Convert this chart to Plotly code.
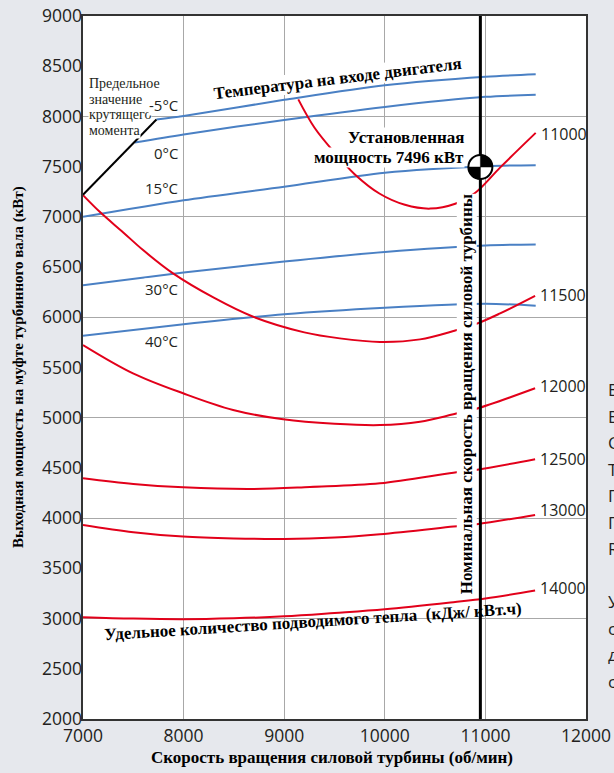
import numpy as np
import plotly.graph_objects as go

# ---------------- data ----------------
# Temperature lines (engine inlet temperature), output power kW vs power-turbine speed rpm
t_m5_x = [7730, 8000, 9000, 10000, 11000, 11500]
t_m5_y = [7970, 8005, 8165, 8310, 8395, 8420]
t_0_x = [7514, 8000, 9000, 10000, 11000, 11500]
t_0_y = [7740, 7820, 7965, 8095, 8195, 8215]
t_15_x = [7000, 8000, 9000, 10000, 11000, 11500]
t_15_y = [7000, 7165, 7300, 7440, 7505, 7515]
t_30_x = [7000, 8000, 9000, 10000, 11000, 11500]
t_30_y = [6320, 6445, 6555, 6650, 6715, 6725]
t_40_x = [7000, 8000, 9000, 10000, 11000, 11500]
t_40_y = [5815, 5930, 6030, 6095, 6135, 6115]
temp_labels = ["-5°C", "0°C", "15°C", "30°C", "40°C"]
temp_label_y = [8118, 7631, 7283, 6278, 5766]

# Heat-rate lines (kJ/kWh)
hr_11000_x = [9140, 9300, 9500, 9700, 9950, 10200, 10450, 10700, 10900, 11150, 11500]
hr_11000_y = [8170, 7890, 7640, 7425, 7230, 7120, 7082, 7130, 7240, 7495, 7836]
hr_11500_x = [7000, 7166, 7400, 7597, 7895, 8300, 8692, 9200, 9553, 9952, 10350, 10682, 10904, 11146, 11494]
hr_11500_y = [7216, 7050, 6845, 6669, 6437, 6195, 6005, 5850, 5790, 5755, 5780, 5863, 5932, 6039, 6214]
hr_12000_x = [7000, 7497, 7995, 8492, 8990, 9500, 9952, 10350, 10682, 10904, 11494]
hr_12000_y = [5724, 5442, 5243, 5077, 4984, 4940, 4927, 4960, 5034, 5087, 5293]
hr_12500_x = [7000, 7500, 7995, 8692, 9256, 9952, 10682, 10904, 11494]
hr_12500_y = [4397, 4340, 4307, 4291, 4311, 4347, 4453, 4480, 4586]
hr_13000_x = [7000, 7500, 7995, 8500, 9000, 9500, 9952, 10682, 10914, 11494]
hr_13000_y = [3932, 3860, 3816, 3798, 3793, 3808, 3840, 3916, 3940, 4032]
hr_14000_x = [7000, 7500, 7995, 8500, 9000, 9500, 10000, 10682, 11000, 11494]
hr_14000_y = [3014, 3000, 2994, 3003, 3022, 3055, 3092, 3163, 3200, 3279]
hr_labels = ["11000", "11500", "12000", "12500", "13000", "14000"]

# Torque limit line
torque_x = [7000, 7730]
torque_y = [7220, 7970]

# Nominal power-turbine speed and installed power point
nominal_speed = [10950]
installed_power = [7496]

x_ticks = [7000, 8000, 9000, 10000, 11000, 12000]
y_ticks = [2000, 2500, 3000, 3500, 4000, 4500, 5000, 5500, 6000, 6500, 7000, 7500, 8000, 8500, 9000]

torque_note = ["Предельное", "значение", "крутящего", "момента"]
installed_note = ["Установленная", "мощность 7496 кВт"]

# ---------------- style ----------------
RED = "#E2001A"
BLUE = "#4A80C4"
SANS = "Open Sans"
SERIF = "Liberation Serif"
TXT = "#231F20"
BG = "#E6E8ED"

fig = go.Figure()

temps = [(t_m5_x, t_m5_y), (t_0_x, t_0_y), (t_15_x, t_15_y), (t_30_x, t_30_y), (t_40_x, t_40_y)]
for (xs, ys) in temps:
    fig.add_trace(go.Scatter(x=xs, y=ys, mode="lines", line=dict(color=BLUE, width=2, shape="spline", smoothing=0.8),
                             hoverinfo="skip", showlegend=False))

hrs = [(hr_11000_x, hr_11000_y), (hr_11500_x, hr_11500_y), (hr_12000_x, hr_12000_y),
       (hr_12500_x, hr_12500_y), (hr_13000_x, hr_13000_y), (hr_14000_x, hr_14000_y)]
for (xs, ys) in hrs:
    fig.add_trace(go.Scatter(x=xs, y=ys, mode="lines", line=dict(color=RED, width=2, shape="spline", smoothing=1.0),
                             hoverinfo="skip", showlegend=False))

fig.add_trace(go.Scatter(x=torque_x, y=torque_y, mode="lines", line=dict(color="black", width=2),
                         hoverinfo="skip", showlegend=False))

# vertical nominal speed line (on overlay axis y2, drawn on top)
fig.add_trace(go.Scatter(x=nominal_speed * 2, y=[y_ticks[0], y_ticks[-1]], mode="lines",
                         line=dict(color="black", width=3), yaxis="y2", hoverinfo="skip", showlegend=False))

annotations = []
# torque-limit note, one line per annotation for tight line spacing
for i, line in enumerate(torque_note):
    annotations.append(dict(x=7045, y=8325 - i * 154, xref="x", yref="y", text=line, showarrow=False,
                            xanchor="left", yanchor="middle", font=dict(family=SERIF, size=14, color=TXT),
                            bgcolor="white", borderpad=0))
# installed power note, one box per line
for i, line in enumerate(installed_note):
    annotations.append(dict(x=10800, y=7795 - i * 205, xref="x", yref="y", text=f"<b>{line}</b>",
                            showarrow=False, xanchor="right", yanchor="middle",
                            font=dict(family=SERIF, size=17, color="black"), bgcolor="white", borderpad=0))
# temperature labels
for lab, ly in zip(temp_labels, temp_label_y):
    annotations.append(dict(x=7955, y=ly, xref="x", yref="y", text=lab, showarrow=False, xanchor="right",
                            yanchor="middle", font=dict(family=SANS, size=15, color=TXT),
                            bgcolor="white", borderpad=0))
# heat-rate labels
hr_shift = [-1, 1, 2, 0, 5, 3]
for lab, (xs, ys), sh in zip(hr_labels, hrs, hr_shift):
    annotations.append(dict(x=xs[-1], y=ys[-1], xref="x", yref="y", text=lab, showarrow=False, xanchor="left",
                            yanchor="middle", xshift=3, yshift=sh, font=dict(family=SANS, size=16, color=TXT)))

annotations += [
    dict(x=9530, y=8375, xref="x", yref="y", text="<b>Температура на входе двигателя</b>",
         showarrow=False, textangle=-7, font=dict(family=SERIF, size=17, color="black"),
         bgcolor="white", borderpad=0),
    dict(x=10810, y=5236, xref="x", yref="y", text="<b>Номинальная скорость вращения силовой турбины</b>",
         showarrow=False, textangle=-90, font=dict(family=SERIF, size=17, color="black"),
         bgcolor="white", borderpad=0),
    dict(x=9290, y=2975, xref="x", yref="y", text="<b>Удельное количество подводимого тепла  (кДж/ кВт.ч)</b>",
         showarrow=False, textangle=-3.6, font=dict(family=SERIF, size=17, color="black")),
    dict(x=0.496, y=-0.0547, xref="paper", yref="paper", text="<b>Скорость вращения силовой турбины (об/мин)</b>",
         showarrow=False, xanchor="center", yanchor="middle", font=dict(family=SERIF, size=17, color="black")),
    dict(x=-0.128, y=0.5, xref="paper", yref="paper", text="<b>Выходная мощность на муфте турбинного вала (кВт)</b>",
         showarrow=False, textangle=-90, xanchor="center", yanchor="middle",
         font=dict(family=SERIF, size=15, color="black")),
]

# clipped side text letters (outside the chart, cut by the page edge)
side_letters = ["В", "В", "С", "Т", "П", "П", "R", "", "У", "с", "д", "с"]
for i, ch in enumerate(side_letters):
    if not ch:
        continue
    annotations.append(dict(x=1.04, y=1 - (390 + i * 26.5 - 15.7) / 703.8, xref="paper", yref="paper", text=ch,
                            showarrow=False, xanchor="left", yanchor="middle",
                            font=dict(family=SANS, size=17, color=TXT)))

# installed-power marker (quartered circle) drawn in pixel units around the data point
R = 12
shapes = [dict(type="circle", xref="x", yref="y", xsizemode="pixel", ysizemode="pixel",
               xanchor=nominal_speed[0], yanchor=installed_power[0], x0=-R, x1=R, y0=-R, y1=R,
               fillcolor="white", line=dict(color="black", width=2), layer="above")]


def wedge(a0, a1, r):
    ang = np.linspace(np.radians(a0), np.radians(a1), 16)
    pts = " ".join(f"L {r*np.cos(a):.2f} {r*np.sin(a):.2f}" for a in ang)
    return f"M 0 0 {pts} Z"


for a0, a1 in [(0, 90), (180, 270)]:
    shapes.append(dict(type="path", xref="x", yref="y", xsizemode="pixel", ysizemode="pixel",
                       xanchor=nominal_speed[0], yanchor=installed_power[0], path=wedge(a0, a1, R),
                       fillcolor="black", line=dict(color="black", width=0.5), layer="above"))

fig.update_layout(
    width=614, height=773,
    margin=dict(l=83, r=28, t=16, b=54, autoexpand=False),
    paper_bgcolor=BG, plot_bgcolor="white",
    showlegend=False,
    xaxis=dict(range=[7000, 12000], tickvals=x_ticks, tickformat="d", showgrid=True, gridcolor="#A8A8A8",
               gridwidth=1, automargin=False,
               showline=True, mirror=True, linecolor="#333333", linewidth=2, zeroline=False, ticks="",
               tickfont=dict(family=SANS, size=17.5, color=TXT)),
    yaxis=dict(range=[2000, 9000], dtick=1000, showgrid=True, gridcolor="#A8A8A8", gridwidth=1,
               showticklabels=False, showline=True, mirror=True, linecolor="#333333", linewidth=2,
               zeroline=False, ticks="", automargin=False),
    yaxis2=dict(range=[2000, 9000], overlaying="y", side="left", tickvals=y_ticks, tickformat="d",
                showgrid=False, automargin=False,
                showline=False, zeroline=False, ticks="", tickfont=dict(family=SANS, size=17.5, color=TXT)),
    annotations=annotations,
    shapes=shapes,
)

fig.write_html("out.html", config={"displayModeBar": False},
               post_script=f"document.body.style.margin='0px';document.body.style.background='{BG}';"
                           "document.body.style.overflow='hidden';")
